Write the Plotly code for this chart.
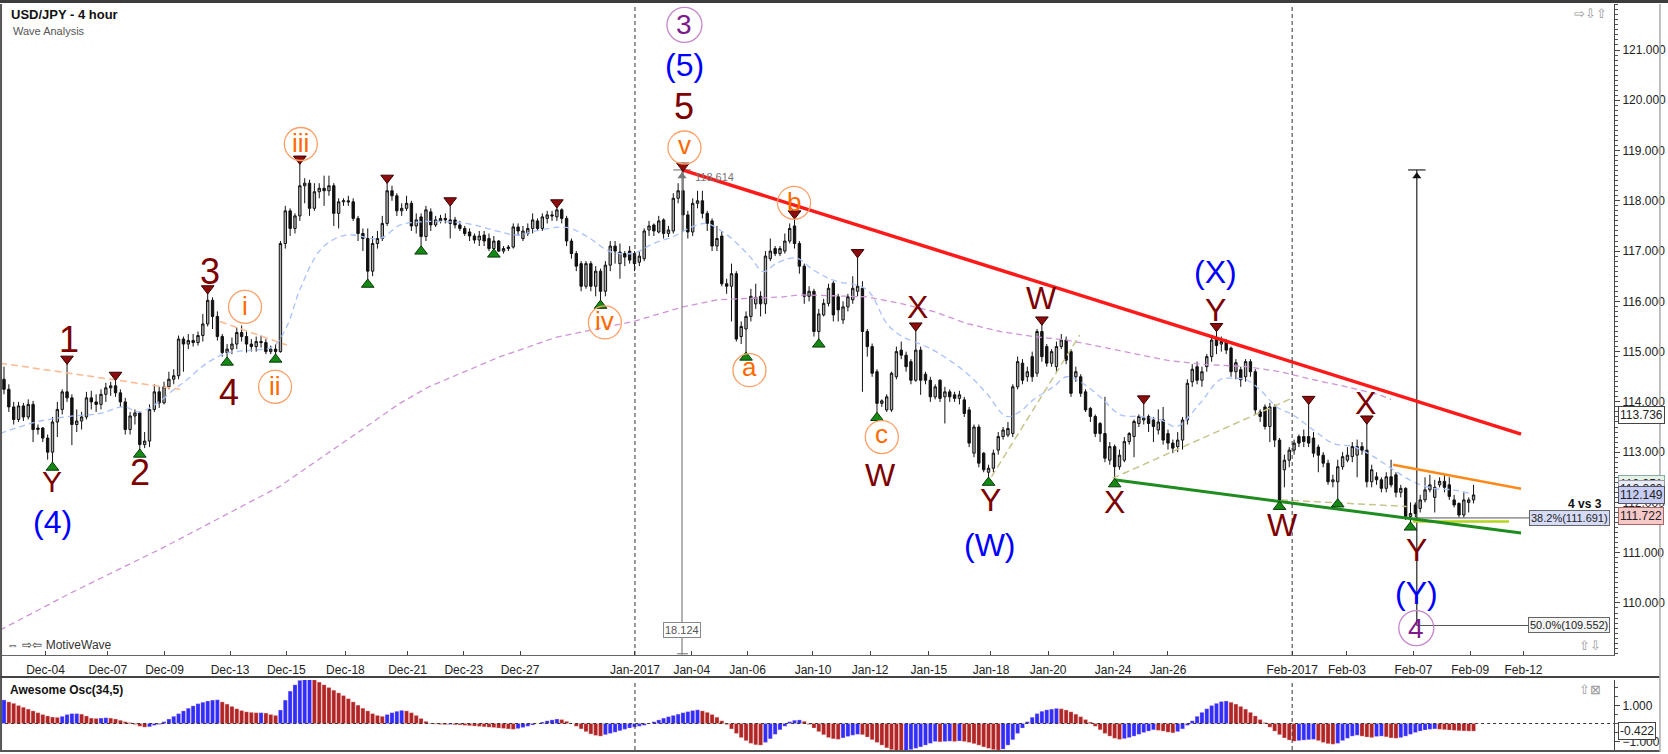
import plotly.graph_objects as go

# ---------------- candles: (open, high, low, close) per 4-hour bar ----------------
bars_dec_a = [
    (114.45, 114.70, 114.15, 114.25), (114.25, 114.35, 113.80, 113.90), (113.90, 114.00, 113.55, 113.65),
    (113.65, 114.00, 113.60, 113.92), (113.92, 113.98, 113.62, 113.70), (113.70, 114.05, 113.65, 113.95),
    (113.95, 114.02, 113.20, 113.45), (113.45, 113.55, 113.35, 113.48), (113.48, 113.50, 113.20, 113.28),
    (113.28, 113.35, 112.85, 113.00), (113.00, 113.70, 112.78, 113.60), (113.60, 114.00, 113.30, 113.85),
    (113.85, 114.25, 113.75, 114.20), (114.20, 114.77, 114.00, 114.08), (114.08, 114.15, 113.14, 113.55),
    (113.55, 113.85, 113.40, 113.62), (113.62, 113.80, 113.45, 113.70), (113.70, 114.20, 113.65, 114.08),
    (114.08, 114.22, 113.85, 114.00), (114.00, 114.15, 113.80, 113.95), (113.95, 114.25, 113.85, 114.15),
    (114.15, 114.38, 114.00, 114.28), (114.28, 114.40, 114.12, 114.32), (114.32, 114.45, 114.10, 114.18),
    (114.18, 114.25, 113.90, 114.00), (114.00, 114.08, 113.35, 113.45), (113.45, 113.80, 113.35, 113.72),
    (113.72, 113.85, 113.55, 113.78), (113.78, 113.80, 113.04, 113.15), (113.15, 113.40, 113.08, 113.22),
    (113.22, 113.95, 113.10, 113.85), (113.85, 114.35, 113.80, 114.20), (114.20, 114.30, 113.88, 113.98),
    (113.98, 114.40, 113.95, 114.30), (114.30, 114.60, 114.25, 114.45), (114.45, 114.65, 114.35, 114.52),
    (114.52, 115.32, 114.45, 115.25), (115.25, 115.30, 114.60, 115.15), (115.15, 115.35, 115.05, 115.22),
    (115.22, 115.35, 115.10, 115.18), (115.18, 115.40, 115.12, 115.32), (115.32, 115.75, 115.20, 115.55),
    (115.55, 116.17, 115.50, 116.02), (116.02, 116.08, 115.45, 115.70), (115.70, 115.80, 115.22, 115.30),
    (115.30, 115.35, 114.90, 114.98), (114.98, 115.15, 114.87, 115.05), (115.05, 115.28, 114.95, 115.15),
    (115.15, 115.48, 115.05, 115.38), (115.38, 115.52, 115.20, 115.30), (115.30, 115.40, 114.98, 115.15),
    (115.15, 115.25, 115.00, 115.10), (115.10, 115.30, 115.00, 115.20), (115.20, 115.32, 115.08, 115.18),
    (115.18, 115.25, 114.95, 115.00), (115.00, 115.12, 114.95, 115.05), (115.05, 115.15, 114.93, 115.00),
]
bars_dec_b = [
    (115.00, 117.20, 114.98, 117.15), (117.15, 117.90, 117.05, 117.80), (117.80, 117.85, 117.30, 117.45),
    (117.45, 117.75, 117.35, 117.70), (117.70, 118.75, 117.60, 118.30), (118.30, 118.45, 117.95, 118.35),
    (118.35, 118.42, 117.70, 117.85), (117.85, 118.35, 117.80, 118.18), (118.18, 118.35, 118.05, 118.25),
    (118.25, 118.50, 117.90, 118.20), (118.20, 118.50, 118.10, 118.30), (118.30, 118.35, 117.50, 117.75),
    (117.75, 118.05, 117.45, 117.98), (117.98, 118.05, 117.90, 118.00), (118.00, 118.10, 117.90, 117.98),
    (117.98, 118.05, 117.60, 117.65), (117.65, 117.70, 117.20, 117.35), (117.35, 117.45, 117.00, 117.25),
    (117.25, 117.45, 116.42, 116.60), (116.60, 117.30, 116.50, 117.15), (117.15, 117.40, 117.05, 117.25),
    (117.25, 117.70, 117.20, 117.55), (117.55, 118.37, 117.50, 118.20), (118.20, 118.30, 118.00, 118.10),
    (118.10, 118.15, 117.70, 117.80), (117.80, 117.95, 117.70, 117.85), (117.85, 118.10, 117.80, 117.95),
    (117.95, 118.00, 117.40, 117.50), (117.50, 117.75, 117.35, 117.62), (117.68, 117.75, 117.08, 117.29),
    (117.29, 117.90, 117.20, 117.82), (117.78, 117.85, 117.40, 117.52), (117.52, 117.70, 117.48, 117.62),
    (117.60, 117.72, 117.55, 117.65), (117.65, 117.75, 117.55, 117.62), (117.62, 117.92, 117.25, 117.55),
    (117.62, 117.68, 117.45, 117.52), (117.52, 117.60, 117.40, 117.45), (117.45, 117.50, 117.30, 117.35),
    (117.38, 117.45, 117.20, 117.30), (117.30, 117.35, 117.15, 117.22), (117.22, 117.40, 117.10, 117.30),
    (117.32, 117.40, 117.10, 117.20), (117.25, 117.35, 117.00, 117.05), (117.05, 117.30, 117.02, 117.20),
    (117.20, 117.22, 116.98, 117.00), (117.00, 117.10, 116.95, 117.05), (117.05, 117.12, 117.00, 117.08),
    (117.08, 117.55, 117.05, 117.48), (117.48, 117.55, 117.30, 117.40), (117.25, 117.50, 117.20, 117.40),
    (117.35, 117.55, 117.30, 117.45), (117.45, 117.75, 117.35, 117.62), (117.60, 117.65, 117.40, 117.45),
    (117.45, 117.75, 117.40, 117.68), (117.65, 117.80, 117.55, 117.72), (117.72, 117.80, 117.60, 117.70),
    (117.68, 117.88, 117.60, 117.82), (117.82, 117.85, 117.55, 117.65), (117.65, 117.70, 117.10, 117.20),
    (117.20, 117.25, 116.85, 116.95), (116.95, 117.00, 116.60, 116.70), (116.75, 116.80, 116.20, 116.30),
    (116.30, 116.80, 116.25, 116.75), (116.75, 116.80, 116.20, 116.30), (116.30, 116.70, 116.10, 116.60),
    (116.60, 116.65, 116.00, 116.20), (116.20, 116.80, 116.10, 116.72), (116.72, 117.20, 116.60, 117.10),
    (117.10, 117.20, 116.75, 117.00), (116.75, 117.15, 116.45, 116.98), (116.95, 117.00, 116.70, 116.88),
    (117.00, 117.10, 116.75, 116.82), (116.95, 117.00, 116.60, 116.75), (116.78, 117.00, 116.70, 116.90),
    (116.85, 117.45, 116.80, 117.40), (117.42, 117.60, 117.30, 117.50), (117.52, 117.55, 117.30, 117.40),
    (117.38, 117.70, 117.35, 117.60), (117.62, 117.65, 117.25, 117.35), (117.35, 117.50, 117.28, 117.42),
    (117.40, 118.15, 117.35, 118.05), (118.05, 118.35, 117.95, 118.20),
]
bars_jan_a = [
    (118.20, 118.61, 117.40, 117.72), (117.72, 117.80, 117.25, 117.38), (117.38, 118.05, 117.30, 117.95),
    (117.95, 118.20, 117.85, 118.00), (118.00, 118.20, 117.65, 117.75), (117.75, 117.80, 117.40, 117.55),
    (117.60, 117.65, 117.00, 117.10), (117.10, 117.50, 117.00, 117.25), (117.30, 117.40, 116.30, 116.35),
    (116.35, 116.45, 116.15, 116.30), (116.30, 116.75, 115.60, 116.55), (116.55, 116.60, 115.20, 115.25),
    (115.30, 115.60, 115.15, 115.50), (115.45, 115.80, 114.97, 115.70), (115.70, 116.25, 115.60, 116.10),
    (115.95, 116.35, 115.85, 116.08), (116.10, 116.20, 115.70, 115.95), (115.95, 117.00, 115.75, 116.90),
    (116.85, 117.25, 116.80, 117.00), (117.05, 117.10, 116.90, 116.95), (116.95, 117.10, 116.90, 117.05),
    (117.00, 117.35, 116.95, 117.20), (117.20, 117.55, 117.15, 117.45), (117.50, 117.66, 117.05, 117.15),
    (117.15, 117.20, 116.55, 116.70), (116.70, 116.75, 115.95, 116.10), (116.10, 116.30, 116.00, 116.20),
    (116.20, 116.25, 115.30, 115.40), (115.40, 115.85, 115.23, 115.75), (115.73, 116.05, 115.70, 115.96),
    (115.96, 116.35, 115.90, 116.26), (116.36, 116.40, 115.60, 115.73), (116.09, 116.15, 115.60, 115.83),
    (115.63, 116.00, 115.55, 115.89), (115.89, 116.15, 115.80, 116.09), (116.03, 116.50, 115.95, 116.26),
    (116.20, 116.89, 116.10, 116.30), (116.26, 116.40, 114.20, 115.40), (115.40, 115.45, 114.90, 115.10),
    (115.10, 115.16, 114.50, 114.57), (114.60, 114.65, 113.77, 113.97), (113.97, 114.05, 113.90, 114.02),
    (113.84, 114.15, 113.80, 114.10), (113.84, 114.60, 113.80, 114.57), (114.50, 115.10, 114.45, 115.00),
    (115.03, 115.20, 114.85, 114.93), (114.93, 115.00, 114.60, 114.70), (114.80, 114.85, 114.35, 114.43),
    (114.43, 115.43, 114.40, 115.03), (115.03, 115.10, 114.14, 114.43), (114.55, 114.60, 114.35, 114.43),
    (114.43, 114.50, 114.00, 114.10), (114.10, 114.35, 114.05, 114.30), (114.43, 114.45, 114.00, 114.07),
    (114.10, 114.30, 113.57, 114.20), (114.20, 114.25, 114.00, 114.10), (114.14, 114.20, 114.00, 114.07),
    (114.07, 114.22, 113.95, 114.14), (114.04, 114.10, 113.70, 113.77), (113.84, 113.90, 113.10, 113.18),
    (112.98, 113.55, 112.90, 113.50), (113.50, 113.55, 112.70, 112.78), (112.98, 113.00, 112.60, 112.65),
    (112.60, 112.75, 112.48, 112.68),
]
bars_jan_b = [
    (112.68, 113.05, 112.60, 112.98), (113.04, 113.40, 112.95, 113.31), (113.31, 113.50, 113.25, 113.44),
    (113.34, 113.60, 113.30, 113.47), (113.37, 114.35, 113.30, 114.30), (114.30, 114.90, 114.25, 114.80),
    (114.77, 114.85, 114.35, 114.43), (114.50, 114.70, 114.40, 114.60), (114.90, 115.00, 114.40, 114.50),
    (114.57, 115.45, 114.50, 115.40), (115.40, 115.55, 114.80, 114.90), (115.10, 115.15, 114.70, 114.77),
    (114.77, 115.05, 114.70, 115.00), (114.70, 115.20, 114.60, 115.10), (115.10, 115.35, 115.05, 115.23),
    (115.23, 115.30, 114.75, 114.83), (115.00, 115.05, 114.10, 114.17), (114.50, 114.70, 114.40, 114.60),
    (114.50, 114.55, 114.10, 114.17), (114.20, 114.25, 113.80, 113.84), (113.87, 113.90, 113.60, 113.71),
    (113.71, 113.75, 113.30, 113.37), (113.57, 113.60, 113.20, 113.37), (113.37, 114.10, 112.80, 112.88),
    (112.84, 113.20, 112.75, 113.11), (113.11, 113.15, 112.45, 112.71), (112.71, 113.05, 112.65, 112.94),
    (112.84, 113.30, 112.80, 113.21), (113.21, 113.40, 113.15, 113.37), (113.31, 113.65, 112.90, 113.61),
    (113.57, 113.75, 113.50, 113.71), (113.64, 113.98, 113.55, 113.68), (113.71, 113.75, 113.40, 113.57),
    (113.64, 113.70, 113.20, 113.51), (113.44, 113.85, 113.35, 113.60), (113.64, 113.90, 113.15, 113.24),
    (113.37, 113.45, 113.05, 113.18), (113.18, 113.25, 112.98, 113.08), (113.11, 113.40, 113.00, 113.24),
    (113.24, 113.70, 113.05, 113.64), (113.64, 114.45, 113.55, 114.37), (114.40, 114.75, 114.30, 114.65),
    (114.70, 114.80, 114.35, 114.43), (114.43, 114.70, 114.30, 114.60), (114.70, 114.95, 114.60, 114.90),
    (114.90, 115.30, 114.80, 115.23), (115.25, 115.42, 114.95, 115.12), (115.15, 115.30, 115.00, 115.20),
    (115.20, 115.25, 114.95, 115.03), (115.07, 115.10, 114.50, 114.60), (114.60, 114.85, 114.45, 114.78),
    (114.64, 114.70, 114.30, 114.44), (114.50, 114.85, 114.40, 114.80), (114.80, 114.85, 114.50, 114.60),
    (114.60, 114.65, 113.75, 113.84), (113.80, 113.85, 113.60, 113.71), (113.90, 113.95, 113.45, 113.51),
    (113.51, 113.98, 113.20, 113.90), (113.90, 113.95, 113.10, 113.24), (113.24, 113.28, 112.00, 112.05),
]
bars_feb = [
    (112.65, 112.95, 112.30, 112.84), (112.84, 113.10, 112.70, 113.04), (113.04, 113.25, 112.95, 113.18),
    (113.31, 113.35, 113.10, 113.18), (113.31, 113.45, 113.10, 113.21), (113.31, 113.97, 113.10, 113.18),
    (113.28, 113.40, 112.90, 112.98), (113.10, 113.15, 112.60, 112.94), (112.94, 113.00, 112.70, 112.78),
    (112.78, 112.85, 112.35, 112.41), (112.41, 112.55, 112.30, 112.45), (112.41, 112.85, 112.05, 112.71),
    (112.71, 113.00, 112.65, 112.91), (112.84, 113.10, 112.80, 112.94), (112.91, 113.20, 112.80, 113.11),
    (112.94, 113.25, 112.50, 113.11), (113.11, 113.20, 112.95, 113.04), (113.04, 113.58, 112.30, 112.41),
    (112.41, 112.75, 112.30, 112.65), (112.51, 112.60, 112.35, 112.45), (112.45, 112.50, 112.20, 112.28),
    (112.28, 112.60, 112.20, 112.51), (112.51, 112.85, 112.30, 112.35), (112.55, 112.60, 112.10, 112.20),
    (112.20, 112.35, 112.10, 112.28), (112.28, 112.30, 111.65, 111.72), (111.72, 112.00, 111.59, 111.78),
    (111.95, 112.00, 111.70, 111.78), (111.88, 112.15, 111.80, 112.05), (112.05, 112.50, 112.00, 112.25),
    (112.25, 112.55, 112.20, 112.35), (112.10, 112.45, 111.80, 112.30), (112.35, 112.50, 112.30, 112.42),
    (112.42, 112.55, 112.20, 112.30), (112.35, 112.50, 112.05, 112.12), (112.05, 112.15, 111.90, 111.95),
    (111.98, 112.00, 111.70, 111.75), (111.75, 112.20, 111.70, 112.05), (112.00, 112.10, 111.80, 112.05),
    (112.05, 112.35, 111.98, 112.149),
]

# ---------------- Awesome Oscillator values ----------------
ao_dec = [1.31, 1.2, 1.12, 1.0, 0.9, 0.8, 0.7, 0.6, 0.5, 0.42,
          0.36, 0.34, 0.4, 0.5, 0.55, 0.55, 0.52, 0.42, 0.3, 0.28,
          0.3, 0.32, 0.3, 0.25, 0.18, 0.1, 0.05, -0.05, -0.15, -0.2,
          -0.18, -0.1, -0.05, 0.1, 0.25, 0.4, 0.55, 0.7, 0.85, 0.98,
          1.1, 1.18, 1.25, 1.3, 1.32, 1.2, 1.08, 0.95, 0.82, 0.72,
          0.65, 0.62, 0.6, 0.6, 0.58, 0.5, 0.45, 0.75, 1.3, 1.8,
          2.15, 2.4, 2.45, 2.47, 2.43, 2.3, 2.15, 2.0, 1.85, 1.7,
          1.55, 1.38, 1.2, 1.02, 0.85, 0.7, 0.55, 0.45, 0.4, 0.5,
          0.6, 0.68, 0.73, 0.7, 0.6, 0.45, 0.28, 0.12, 0.02, -0.03,
          -0.05, -0.06, -0.05, -0.07, -0.08, -0.1, -0.12, -0.14, -0.16, -0.18,
          -0.2, -0.22, -0.25, -0.27, -0.3, -0.32, -0.28, -0.22, -0.15, -0.08,
          0.0, 0.08, 0.15, 0.2, 0.25, 0.22, 0.12, 0.0, -0.15, -0.3,
          -0.45, -0.58, -0.66, -0.7, -0.62, -0.55, -0.48, -0.4, -0.32, -0.25,
          -0.2, -0.15, -0.1, 0.0, 0.1, 0.2, 0.3, 0.38, 0.45, 0.52]
ao_jan = [0.6, 0.66, 0.72, 0.76, 0.7, 0.62, 0.5, 0.35, 0.15, -0.05,
          -0.3, -0.55, -0.78, -0.95, -1.1, -1.18, -1.2, -1.05, -0.85, -0.6,
          -0.35, -0.15, 0.1, 0.18, 0.2, 0.12, -0.05, -0.25, -0.45, -0.62,
          -0.78, -0.85, -0.88, -0.8, -0.72, -0.65, -0.6, -0.62, -0.75, -0.9,
          -1.05, -1.2, -1.35, -1.45, -1.52, -1.55, -1.5, -1.45, -1.38, -1.3,
          -1.2, -1.1, -1.0, -1.02, -1.0, -0.98, -1.0, -0.97, -1.0, -1.05,
          -1.12, -1.2, -1.3, -1.38, -1.45, -1.48, -1.42, -1.2, -0.9, -0.55,
          -0.25, 0.1, 0.35, 0.55, 0.68, 0.76, 0.8, 0.84, 0.82, 0.75,
          0.65, 0.52, 0.38, 0.22, 0.08, -0.15, -0.35, -0.55, -0.7, -0.82,
          -0.88, -0.84, -0.78, -0.7, -0.6, -0.5, -0.42, -0.35, -0.38, -0.42,
          -0.48, -0.52, -0.45, -0.3, -0.1, 0.15, 0.4, 0.62, 0.82, 1.0,
          1.12, 1.22, 1.25, 1.18, 1.08, 0.95, 0.8, 0.62, 0.42, 0.22,
          0.05, -0.2, -0.42, -0.62]
ao_feb = [-0.8, -0.92, -0.98, -0.95, -0.92, -0.9,
          -0.88, -0.95, -1.05, -1.12, -1.15, -1.1, -0.95, -0.82, -0.7, -0.65,
          -0.7, -0.75, -0.78, -0.72, -0.7, -0.74, -0.8, -0.82, -0.78, -0.7,
          -0.6, -0.5, -0.42, -0.36, -0.32, -0.3, -0.32, -0.34, -0.36, -0.38,
          -0.4, -0.41, -0.42, -0.422]

# ---------------- moving averages (read at sample bars) ----------------
ma_fast_x = [-0.8, 6.6, 13.5, 19.8, 24.6, 28.0, 31.5, 35.0, 37.7, 41.8, 45.9, 51.4, 55.5, 58.3, 61.0, 65.2,
             69.3, 72.0, 77.5, 81.7, 85.8, 88.5, 95.4, 100.9, 105.7, 110.5, 116, 120.2, 125, 129.8, 133.9,
             138, 142.1, 144.9, 147.6, 150.4, 153.8, 156.6, 159.3, 163.4, 166.9, 171, 177.9, 182, 184.7,
             191.6, 198.5, 202.6, 206.7, 209.5, 212.2, 216.4, 219.1, 221.9, 226, 230.2, 234.3, 238.5,
             241.8, 246.6, 250.7, 253.5, 256.2, 259, 262.4, 265.8, 270, 274.1, 278.2, 282.4, 286.5,
             290.6, 294.7, 298.8, 302.3]
ma_fast_y = [113.37, 113.6, 113.71, 113.77, 113.9, 113.8, 113.97, 114.24, 114.44, 114.77, 114.97, 115.03,
             115.1, 115.5, 116.23, 117.02, 117.29, 117.32, 117.25, 117.52, 117.58, 117.59, 117.55, 117.42,
             117.32, 117.42, 117.47, 117.29, 116.99, 116.96, 117.15, 117.29, 117.49, 117.55, 117.42, 117.22,
             116.89, 116.59, 116.76, 116.86, 116.62, 116.42, 116.23, 115.56, 115.33, 115.03, 114.57, 114.17,
             113.71, 113.81, 114.04, 114.3, 114.5, 114.4, 114.1, 113.74, 113.71, 113.64, 113.51, 113.97,
             114.44, 114.47, 114.44, 114.24, 113.9, 113.74, 113.44, 113.17, 113.11, 112.91, 112.65, 112.41,
             112.28, 112.25, 112.18]
ma_slow_x = [-0.8, 13.8, 33, 56.7, 72.8, 81.6, 87.6, 102.3, 114, 129.8, 140, 147, 153.8, 160.7, 164.1,
             177.9, 184.7, 191.6, 198.5, 205.4, 212.2, 219.1, 226, 232.9, 239.7, 246.6, 256.2, 263.1,
             270, 276.8, 283.7, 286]
ma_slow_y = [109.46, 110.2, 111.11, 112.31, 113.38, 113.97, 114.3, 114.9, 115.29, 115.6, 115.89, 116.03,
             116.06, 116.09, 116.13, 116.09, 115.96, 115.8, 115.56, 115.4, 115.3, 115.23, 115.1, 114.97,
             114.83, 114.75, 114.7, 114.6, 114.44, 114.3, 114.14, 114.05]

# ---------------- drawn lines ----------------
red_x, red_y = [140, 312.8], [118.61, 113.36]
green_x, green_y = [228.9, 312.8], [112.45, 111.39]
orange_x, orange_y = [286.4, 312.8], [112.75, 112.27]
lime_x, lime_y = [290.5, 310.3], [111.62, 111.62]
khaki_x = [203.6, 221.8, None, 228.6, 265.5, None, 263.3, 289.2]
khaki_y = [112.51, 115.33, None, 112.48, 114.07, None, 112.05, 111.92]
peach_x = [-0.8, 36.3, None, 44.5, 58.3]
peach_y = [114.77, 114.25, None, 115.6, 115.13]
fib_levels = [111.691, 109.552]
fib_text = ["38.2%(111.691)", "50.0%(109.552)"]

# ---------------- swing markers ----------------
swing_high_idx = [13, 23, 42, 61, 79, 92, 114, 140, 163, 176, 188, 214, 235, 250, 269, 281]
swing_low_idx = [10, 28, 46, 56, 75, 86, 101, 123, 153, 168, 180, 203, 229, 263, 275, 290]

# ---------------- wave labels ----------------
red_lbl = ["1", "Y", "2", "3", "4", "5", "W", "X", "Y", "W", "X", "Y", "W", "X", "Y"]
red_lx = [13.5, 9.8, 28.0, 42.5, 46.3, 140.3, 180.8, 188.4, 203.5, 214.0, 228.9, 249.7, 263.7, 280.7, 291.2]
red_ly = [115.25, 112.41, 112.59, 116.59, 114.18, 119.87, 112.55, 115.89, 112.05, 116.07, 112.01, 115.83,
          111.55, 113.97, 111.05]
blue_lbl = ["(4)", "(5)", "(W)", "(X)", "(Y)"]
blue_lx = [9.9, 140.3, 203.3, 249.7, 291.2]
blue_ly = [111.62, 120.7, 111.15, 116.59, 110.19]
orange_lbl = ["iii", "i", "ii", "iv", "v", "a", "b", "c"]
orange_lx = [61.2, 49.7, 55.9, 123.9, 140.3, 153.7, 162.9, 181.0]
orange_ly = [119.13, 115.89, 114.3, 115.58, 119.06, 114.63, 117.96, 113.3]
purple_lbl = ["3", "4"]
purple_lx = [140.3, 291.2]
purple_ly = [121.5, 109.5]

# right-hand price flags: value, text, fill, border
flag_vals = [112.36, 112.27, 113.736, 112.149, 111.722]
flag_text = ["112.351", "112.262", "113.736", "112.149", "111.722"]
flag_fill = ["#e6f2e6", "#e8ecf8", "white", "#c6ccf2", "#f6c8c8"]
flag_edge = ["#8aa", "#99a", "#444", "#556", "#a66"]
osc_last = -0.422

tick_pos = [8.56, 21.4, 33.1, 46.6, 58.2, 70.4, 83.2, 94.8, 106.4, 130.1, 141.8, 153.3, 166.8, 178.6,
            190.7, 203.5, 215.3, 228.7, 240.0, 265.6, 276.9, 290.6, 302.3, 313.3]
tick_text = ["Dec-04", "Dec-07", "Dec-09", "Dec-13", "Dec-15", "Dec-18", "Dec-21", "Dec-23", "Dec-27",
             "Jan-2017", "Jan-04", "Jan-06", "Jan-10", "Jan-12", "Jan-15", "Jan-18", "Jan-20", "Jan-24",
             "Jan-26", "Feb-2017", "Feb-03", "Feb-07", "Feb-09", "Feb-12"]

# ---------------- build ----------------
bars = bars_dec_a + bars_dec_b + bars_jan_a + bars_jan_b + bars_feb
opens = [b[0] for b in bars]
highs = [max(b) for b in bars]
lows = [min(b) for b in bars]
closes = [b[3] for b in bars]
xi = list(range(len(bars)))
ao = ao_dec + ao_jan + ao_feb
ao_x = list(range(len(ao)))
ao_col = ["#2e2eff" if (i == 0 or ao[i] >= ao[i - 1]) else "#b02626" for i in range(len(ao))]

FONT = "Arial, 'Liberation Sans', sans-serif"
fig = go.Figure()

fig.add_trace(go.Scatter(x=ma_slow_x, y=ma_slow_y, mode="lines",
                         line=dict(color="#cf94d8", width=1.3, dash="6px,4px")))
fig.add_trace(go.Scatter(x=ma_fast_x, y=ma_fast_y, mode="lines", line_shape="spline",
                         line=dict(color="#a9c1ff", width=1.3, dash="6px,4px")))
fig.add_trace(go.Scatter(x=peach_x, y=peach_y, mode="lines",
                         line=dict(color="#ffb890", width=1.5, dash="7px,4px")))
fig.add_trace(go.Scatter(x=khaki_x, y=khaki_y, mode="lines",
                         line=dict(color="#c9c48e", width=1.5, dash="7px,4px")))

fig.add_trace(go.Candlestick(x=xi, open=opens, high=highs, low=lows, close=closes,
                             increasing=dict(fillcolor="#b0b0b0", line=dict(color="#111111", width=1)),
                             decreasing=dict(fillcolor="#111111", line=dict(color="#111111", width=1)),
                             whiskerwidth=0))

# fib & measure lines
for lv in fib_levels:
    fig.add_trace(go.Scatter(x=[291.3, 315.3], y=[lv, lv], mode="lines", line=dict(color="#555", width=1)))
fig.add_trace(go.Scatter(x=[291.3, 291.3, None, 289.5, 293.1], y=[118.614, 109.552, None, 118.614, 118.614],
                         mode="lines", line=dict(color="#222", width=1.2)))
fig.add_trace(go.Scatter(x=[139.8, 139.8, None, 138.0, 141.6, None, 138.8, 141.0],
                         y=[118.614, 108.97, None, 118.614, 118.614, None, 108.99, 108.99],
                         mode="lines", line=dict(color="#808080", width=1.2)))
fig.add_trace(go.Scatter(x=[291.3, 139.8], y=[118.49, 118.49], mode="markers",
                         marker=dict(symbol="triangle-up", size=8, color=["#111", "#777"])))

fig.add_trace(go.Scatter(x=lime_x, y=lime_y, mode="lines", line=dict(color="#b2d41e", width=2.5)))
fig.add_trace(go.Scatter(x=green_x, y=green_y, mode="lines", line=dict(color="#1f8c1f", width=3)))
fig.add_trace(go.Scatter(x=orange_x, y=orange_y, mode="lines", line=dict(color="#ff8a1c", width=2.5)))
fig.add_trace(go.Scatter(x=red_x, y=red_y, mode="lines", line=dict(color="#ff1a1a", width=3.5)))

fig.add_trace(go.Scatter(x=swing_high_idx, y=[highs[i] + 0.085 for i in swing_high_idx], mode="markers",
                         marker=dict(symbol="triangle-down", size=11, color="#8c0d0d",
                                     line=dict(color="#3a0000", width=1))))
fig.add_trace(go.Scatter(x=swing_low_idx, y=[lows[i] - 0.085 for i in swing_low_idx], mode="markers",
                         marker=dict(symbol="triangle-up", size=11, color="#148a14",
                                     line=dict(color="#0a3a0a", width=1))))

fig.add_trace(go.Scatter(x=orange_lx, y=orange_ly, mode="markers",
                         marker=dict(symbol="circle-open", size=33, color="#ff9f66", line=dict(width=1.3))))
fig.add_trace(go.Scatter(x=purple_lx, y=purple_ly, mode="markers",
                         marker=dict(symbol="circle-open", size=35, color="#c685cc", line=dict(width=1.3))))

# oscillator
fig.add_trace(go.Bar(x=ao_x, y=ao, marker=dict(color=ao_col, line=dict(color="rgba(255,200,200,0.6)", width=0.5)),
                     xaxis="x2", yaxis="y2"))

ann = []
for t, x, y in zip(red_lbl, red_lx, red_ly):
    sz = 36 if t.isdigit() else 32
    if t == "Y" and x < 20:
        sz = 30
    ann.append(dict(x=x, y=y, text=t, showarrow=False, font=dict(family=FONT, size=sz, color="#7d0000")))
for t, x, y in zip(blue_lbl, blue_lx, blue_ly):
    ann.append(dict(x=x, y=y, text=t, showarrow=False, font=dict(family=FONT, size=32, color="#0000ff")))
for t, x, y in zip(orange_lbl, orange_lx, orange_ly):
    ys = 3 if t in ("a", "c", "v") else 1
    ann.append(dict(x=x, y=y, text=t, showarrow=False, yshift=ys,
                    font=dict(family=FONT, size=26, color="#ff6a00")))
for t, x, y in zip(purple_lbl, purple_lx, purple_ly):
    ann.append(dict(x=x, y=y, text=t, showarrow=False, font=dict(family=FONT, size=28, color="#7d1a8c")))

for lv, tx, bg in zip(fib_levels, fib_text, ["#d6dcf8", "#f4f4f4"]):
    ann.append(dict(x=322.7, y=lv, text=tx, showarrow=False, bgcolor=bg, bordercolor="#666", borderwidth=1,
                    borderpad=1, font=dict(family=FONT, size=11, color="#222")))
ann.append(dict(x=329.9, y=111.97, text="<b>4 vs 3</b>", showarrow=False, xanchor="right",
                font=dict(family=FONT, size=12, color="#111")))
ann.append(dict(x=142.0, y=118.47, text="118.614", showarrow=False, xanchor="left",
                font=dict(family=FONT, size=11, color="#777")))
ann.append(dict(x=139.8, y=109.46, text="18.124", showarrow=False, bgcolor="white", bordercolor="#888",
                borderwidth=1, borderpad=1, font=dict(family=FONT, size=11, color="#555")))

for val, tx, bg, bc in zip(flag_vals, flag_text, flag_fill, flag_edge):
    ann.append(dict(xref="paper", yref="y", x=1.0025, y=val, text=tx, showarrow=False, xanchor="left",
                    bgcolor=bg, bordercolor=bc, borderwidth=1, borderpad=1,
                    font=dict(family=FONT, size=12, color="#222")))
ann.append(dict(xref="paper", yref="y2", x=1.0025, y=osc_last, text=f"{osc_last:.3f}", showarrow=False,
                xanchor="left", bgcolor="white", bordercolor="#444", borderwidth=1, borderpad=1,
                font=dict(family=FONT, size=12, color="#222")))

# captions
ann.append(dict(xref="paper", yref="paper", x=0.0045, y=0.9853, yanchor="middle", text="<b>USD/JPY - 4 hour</b>",
                showarrow=False, xanchor="left", font=dict(family=FONT, size=13, color="#111")))
ann.append(dict(xref="paper", yref="paper", x=0.0055, y=0.9639, yanchor="middle", text="Wave Analysis",
                showarrow=False, xanchor="left", font=dict(family=FONT, size=11, color="#555")))
ann.append(dict(xref="paper", yref="paper", x=0.002, y=0.143, yanchor="middle", text="⇔ ⇨⇦ MotiveWave",
                showarrow=False, xanchor="left", font=dict(family=FONT, size=12, color="#333")))
ann.append(dict(xref="paper", yref="paper", x=0.0037, y=0.0829, yanchor="middle",
                text="<b>Awesome Osc(34,5)</b>", showarrow=False, xanchor="left",
                font=dict(family=FONT, size=12, color="#111")))
ann.append(dict(xref="paper", yref="paper", x=0.997, y=0.9876, yanchor="middle", text="⇨⇩⇧", showarrow=False,
                xanchor="right", font=dict(family=FONT, size=13, color="#999")))
ann.append(dict(xref="paper", yref="paper", x=0.993, y=0.143, yanchor="middle", text="⇧⇩", showarrow=False,
                xanchor="right", font=dict(family=FONT, size=13, color="#999")))
ann.append(dict(xref="paper", yref="paper", x=0.993, y=0.083, yanchor="middle", text="⇧⊠", showarrow=False,
                xanchor="right", font=dict(family=FONT, size=13, color="#999")))

shapes = [
    dict(type="rect", xref="paper", yref="paper", x0=-0.01, x1=1.04, y0=1.0015, y1=1.006,
         fillcolor="#3c3c3c", line=dict(width=0)),
    dict(type="line", xref="paper", yref="paper", x0=-0.0006, x1=-0.0006, y0=0, y1=1.0,
         line=dict(color="#555", width=2)),
    dict(type="line", xref="paper", yref="paper", x0=-0.01, x1=1.0285, y0=0.1003, y1=0.1003,
         line=dict(color="#444", width=2)),
    dict(type="line", xref="paper", yref="paper", x0=-0.01, x1=1.0285, y0=0.0015, y1=0.0015,
         line=dict(color="#555", width=2)),
    dict(type="line", xref="paper", yref="paper", x0=1.0285, x1=1.0285, y0=0, y1=1.0,
         line=dict(color="#aaa", width=1.5)),
    dict(type="line", xref="x2", yref="y2", x0=-1, x1=332, y0=0, y1=0,
         line=dict(color="#333", width=1, dash="3px,3px")),
]
for xv in [130.1, 265.6]:
    shapes.append(dict(type="line", xref="x", yref="y domain", x0=xv, x1=xv, y0=0, y1=1,
                       line=dict(color="#333", width=1, dash="4px,3px")))
    shapes.append(dict(type="line", xref="x2", yref="y2 domain", x0=xv, x1=xv, y0=0, y1=1,
                       line=dict(color="#333", width=1, dash="4px,3px")))

fig.update_layout(
    width=1668, height=754, margin=dict(l=2, r=54, t=4, b=2),
    paper_bgcolor="white", plot_bgcolor="white", showlegend=False, hovermode=False, bargap=0.18,
    annotations=ann, shapes=shapes,
    xaxis=dict(domain=[0, 1], range=[-0.41, 331.96], anchor="y", tickvals=tick_pos, ticktext=tick_text,
               ticks="inside", ticklen=4, tickcolor="#444", showline=True, linecolor="#666", linewidth=1,
               showgrid=False, zeroline=False, rangeslider=dict(visible=False), ticklabelstandoff=4,
               tickfont=dict(family=FONT, size=12, color="#222")),
    yaxis=dict(domain=[0.1297, 1], range=[108.965, 121.915], side="right", anchor="x",
               tickvals=list(range(110, 122)), tickformat=".3f", ticks="outside", ticklen=5, tickcolor="#444",
               minor=dict(dtick=0.1, ticklen=3, ticks="outside", tickcolor="#555"),
               showline=True, linecolor="#444", showgrid=False, zeroline=False,
               tickfont=dict(family=FONT, size=12, color="#222")),
    xaxis2=dict(domain=[0, 1], anchor="y2", matches="x", range=[-0.41, 331.96], showticklabels=False,
                showgrid=False, zeroline=False, showline=False, ticks=""),
    yaxis2=dict(domain=[0.0027, 0.0963], range=[-1.47, 2.42], side="right", anchor="x2",
                tickvals=[-1, 1], tickformat=".3f", ticks="outside", ticklen=5, tickcolor="#444",
                minor=dict(dtick=0.5, ticklen=3, ticks="outside", tickcolor="#555"),
                showline=True, linecolor="#444", showgrid=False, zeroline=False,
                tickfont=dict(family=FONT, size=12, color="#222")),
)

fig.write_html("out.html", config={"displayModeBar": False},
               post_script="document.body.style.margin='0';document.body.style.overflow='hidden';")
